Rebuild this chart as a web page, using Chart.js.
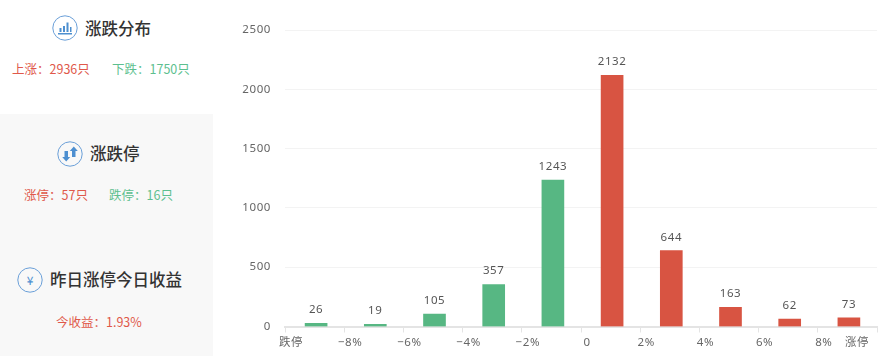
<!DOCTYPE html>
<html>
<head>
<meta charset="utf-8">
<script src="https://cdn.jsdelivr.net/npm/chart.js@4"></script>
<style>
    html, body { margin: 0; padding: 0; background: #fff; overflow: hidden; }
    body { width: 879px; height: 356px; position: relative; font-family: "Noto Sans CJK SC", sans-serif; }
    #side { position: absolute; left: 0; top: 114px; width: 213px; height: 242px; background: #f8f8f8; }
    .title { position: absolute; font-size: 16.5px; line-height: 26px; font-weight: 500; color: #333; white-space: nowrap; }
    .stat { position: absolute; font-size: 12.5px; line-height: 18px; white-space: nowrap; }
    .up { color: #e0584a; }
    .down { color: #5dbf8f; }
    .icon { position: absolute; width: 26px; height: 26px; }
    .yen { position: absolute; left: 17px; top: 267px; width: 26px; height: 26px; line-height: 26px; text-align: center; font-size: 12px; color: #4d8fd0; }
    #wrap { position: absolute; left: 213px; top: 0; width: 666px; height: 356px; }
</style>
</head>
<body>
<div id="side"></div>

<svg class="icon" style="left:52px;top:15px" viewBox="0 0 26 26">
    <circle cx="13" cy="13" r="12.2" fill="none" stroke="#6a9fd8" stroke-width="1"/>
    <path d="M6 18h14v1.4H6zM7.500 13h2v4h-2zM11 11h2v6h-2zM14.500 7.500h2v9.500h-2zM18 12h1.500v5H18z" fill="#4d8fd0"/>
</svg>
<div class="title" style="left:85px;top:15px">涨跌分布</div>
<div class="stat up" style="left:12px;top:60px">上涨：2936只</div>
<div class="stat down" style="left:112px;top:60px">下跌：1750只</div>

<svg class="icon" style="left:57px;top:141px" viewBox="0 0 26 26">
    <circle cx="13" cy="13" r="12.2" fill="none" stroke="#6a9fd8" stroke-width="1"/>
    <path d="M7.500 10h3.500v6h2.200l-4 4.500-4-4.500h2.300zM15 16v-6h-2.200l4-4.500 4 4.500h-2.300v6z" fill="#4d8fd0"/>
</svg>
<div class="title" style="left:90px;top:140px">涨跌停</div>
<div class="stat up" style="left:24px;top:186px">涨停：57只</div>
<div class="stat down" style="left:109px;top:186px">跌停：16只</div>

<svg class="icon" style="left:17px;top:267px" viewBox="0 0 26 26">
    <circle cx="13" cy="13" r="12.2" fill="none" stroke="#6a9fd8" stroke-width="1"/>
</svg>
<div class="yen">¥</div>
<div class="title" style="left:50px;top:266px">昨日涨停今日收益</div>
<div class="stat up" style="left:56px;top:313px">今收益：1.93%</div>

<div id="wrap"><canvas id="chart" width="666" height="356"></canvas></div>

<script>
const bucketCenters = [-9, -7, -5, -3, -1, 1, 3, 5, 7, 9];
const stockCounts = [26, 19, 105, 357, 1243, 2132, 644, 163, 62, 73];
const tickNames = { '-10': '跌停', '-8': '−8%', '-6': '−6%', '-4': '−4%', '-2': '−2%', '0': '0', '2': '2%', '4': '4%', '6': '6%', '8': '8%', '10': '涨停' };

const RED = '#d85442';
const GREEN = '#57b783';
const TEXT = '#666';
const FONT = '"Noto Sans", "Noto Sans CJK SC", sans-serif';

// no datalabels plugin here, so the numbers over the bars are drawn by hand
const valueLabels = {
    id: 'valueLabels',
    beforeDraw(chart) {
        chart.ctx.letterSpacing = '0.6px';
        // last label sits left of its tick in the original
        const items = chart.scales.x.getLabelItems();
        const last = items[items.length - 1];
        last.options.translation[0] -= 26;
    },
    afterDatasetsUpdate(chart) {
        // bars sit slightly right of the middle between two ticks
        chart.getDatasetMeta(0).data.forEach(function (bar) {
            bar.x += 1.5;
        });
    },
    afterDatasetsDraw(chart) {
        const ctx = chart.ctx;
        ctx.save();
        ctx.font = '11.5px ' + FONT;
        ctx.fillStyle = '#555';
        ctx.textAlign = 'center';
        ctx.textBaseline = 'bottom';
        chart.getDatasetMeta(0).data.forEach(function (bar, i) {
            ctx.fillText(stockCounts[i], bar.x, bar.y - 7.5);
        });
        ctx.restore();
    }
};

new Chart(document.getElementById('chart'), {
    type: 'bar',
    plugins: [valueLabels],
    data: {
        datasets: [{
            data: bucketCenters.map(function (x, i) { return { x: x, y: stockCounts[i] }; }),
            backgroundColor: bucketCenters.map(function (x) { return x < 0 ? GREEN : RED; }),
            barThickness: 22,
            yAxisID: 'yBars'
        }]
    },
    options: {
        responsive: false,
        animation: false,
        layout: { padding: { top: 30, right: 2, left: 0, bottom: 0 } },
        plugins: { legend: { display: false }, tooltip: { enabled: false } },
        scales: {
            x: {
                type: 'linear',
                offset: false,
                min: -10,
                max: 10,
                afterFit(scale) {
                    scale.height = 29.5;
                    scale.paddingLeft = 0;
                    scale.paddingRight = 0;
                },
                border: { color: '#e4e4e4', width: 2 },
                grid: { offset: false, drawOnChartArea: false, color: '#e4e4e4', tickLength: 6 },
                ticks: {
                    stepSize: 2,
                    autoSkip: false,
                    maxRotation: 0,
                    padding: 3,
                    labelOffset: 6,
                    color: TEXT,
                    font: { family: FONT, size: 11.5 },
                    callback(v) { return tickNames[v]; }
                }
            },
            y: {
                min: 0,
                max: 2500,
                afterFit(scale) { scale.width = 72; },
                border: { display: false },
                grid: { color: '#f3f3f3', drawTicks: false },
                ticks: {
                    stepSize: 500,
                    padding: 14,
                    color: TEXT,
                    font: { family: FONT, size: 11.5 },
                    callback(v) { return String(v); }
                }
            },
            // bars in the original come out a touch shorter than the gridlines say
            yBars: { display: false, min: 0, max: 2518 }
        }
    }
});
</script>
</body>
</html>
